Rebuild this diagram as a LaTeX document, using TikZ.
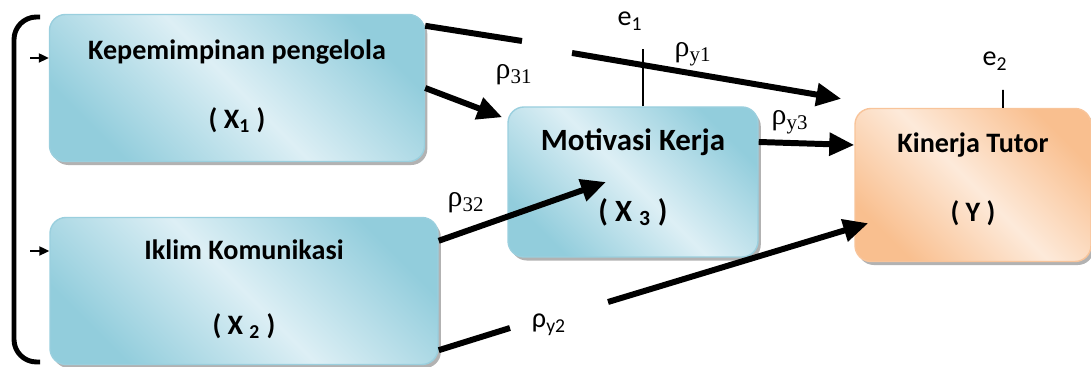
\documentclass[tikz,border=0pt]{standalone}
\usepackage{fontspec}
\setmainfont{Carlito}
\newfontfamily\rhofont{Liberation Serif}
\usetikzlibrary{positioning, arrows.meta, calc, shadows}

\definecolor{bluedark}{HTML}{92CDDC}
\definecolor{bluelight}{HTML}{DDEFF5}
\definecolor{blueline}{HTML}{9ACFDE}
\definecolor{orangedark}{HTML}{F9BF8F}
\definecolor{orangelight}{HTML}{FDEADA}
\definecolor{orangeline}{HTML}{F8C49A}

\begin{document}
\begin{tikzpicture}[
	varbox/.style={draw=blueline, line width=0.8pt, rounded corners=0.32cm,
		shading=axis, top color=bluedark, bottom color=bluedark, middle color=bluelight,
		shading angle=-45,
		drop shadow={shadow xshift=1.6pt, shadow yshift=-2pt, fill=black, opacity=0.3}},
	outbox/.style={varbox, draw=orangeline, top color=orangedark, bottom color=orangedark,
		middle color=orangelight, shading angle=-45},
	ttl/.style={font=\bfseries\fontsize{16}{19}\selectfont},
	bigttl/.style={font=\bfseries\fontsize{17.6}{21}\selectfont},
	rho/.style={font=\rhofont\fontsize{17}{20}\selectfont},
	elab/.style={font=\fontsize{16}{19}\selectfont},
	pathline/.style={line width=3.4pt},
	patharr/.style={pathline, -{Triangle[length=0.5cm, width=0.44cm]}},
	smallarr/.style={line width=1.2pt, -{Triangle[length=0.2cm, width=0.18cm]}}
]
\useasboundingbox (0,0) rectangle (21.82,7.34);

% variables
\node[varbox, minimum width=7.5cm, minimum height=2.94cm] (x1) at (4.74,5.58) {};
\node[varbox, minimum width=7.76cm, minimum height=2.94cm] (x2) at (4.88,1.52) {};
\node[varbox, minimum width=5.0cm, minimum height=3.0cm] (x3) at (12.66,3.70) {};
\node[outbox, minimum width=4.72cm, minimum height=3.06cm] (y) at (19.46,3.64) {};

\node[ttl] (x1t) at ($(x1)+(0,0.72)$) {Kepemimpinan pengelola};
\node[ttl] (x1s) at ($(x1)+(0,-0.64)$) {( X\textsubscript{1} )};
\node[ttl] (x2t) at ($(x2)+(0,0.82)$) {Iklim Komunikasi};
\node[ttl] (x2s) at ($(x2)+(0,-0.7)$) {( X \textsubscript{2} )};
\node[bigttl] (x3t) at ($(x3)+(0,0.8)$) {Motivasi Kerja};
\node[bigttl] (x3s) at ($(x3)+(0,-0.6)$) {( X \textsubscript{3} )};
\node[ttl] (yt) at ($(y)+(0,0.8)$) {Kinerja Tutor};
\node[ttl] (ys) at ($(y)+(0,-0.56)$) {( Y )};

% bracket on the left
\draw[line width=2.8pt, rounded corners=0.45cm] (0.8,7.0) -- (0.28,7.0) -- (0.28,0.1) -- (0.8,0.1);
\coordinate (b1) at (0.6,6.18);
\coordinate (b2) at (0.6,2.32);
\draw[smallarr] (b1) -- (b1 -| x1.west);
\draw[smallarr] (b2) -- (b2 -| x2.west);

% paths
\coordinate (g1a) at (10.44,6.52);
\coordinate (g1b) at (11.44,6.28);
\draw[pathline] ([yshift=-0.24cm]x1.north east) -- (g1a);
\draw[patharr] (g1b) -- ([xshift=-0.26cm,yshift=0.18cm]y.north west);
\draw[patharr] (x1.east) -- ([xshift=-0.1cm,yshift=-0.22cm]x3.north west);
\draw[patharr] ([yshift=0.8cm]x3.east) -- ([yshift=0.8cm]y.west);
\draw[patharr] ([yshift=-0.48cm]x2.north east) -- ([xshift=-0.54cm,yshift=0.0cm]x3.center);
\coordinate (g2a) at (10.2,0.78);
\coordinate (g2b) at (12.16,1.3);
\draw[pathline] ([yshift=0.3cm]x2.south east) -- (g2a);
\draw[patharr] (g2b) -- ([xshift=0.28cm,yshift=0.78cm]y.south west);

% errors
\node[elab] (e1) at (12.6,6.92) {e\textsubscript{1}};
\node[elab] (e2) at (19.9,6.12) {e\textsubscript{2}};
\coordinate (e1a) at ($(x3.north)+(0.2,1.14)$);
\coordinate (e2a) at ($(y.north)+(0.6,0.36)$);
\draw[line width=1pt] ([xshift=0.2cm]x3.north) -- (e1a);
\draw[line width=1pt] ([xshift=0.6cm]y.north) -- (e2a);

% coefficients
\node[rho] (ry1) at (13.86,6.26) {ρ\textsubscript{y1}};
\node[rho] (r31) at (10.28,5.84) {ρ\textsubscript{31}};
\node[rho] (ry3) at (15.8,4.9) {ρ\textsubscript{y3}};
\node[rho] (r32) at (9.32,3.28) {ρ\textsubscript{32}};
\node[elab] (ry2) at (10.98,0.84) {ρ\textsubscript{y2}};
\end{tikzpicture}
\end{document}
